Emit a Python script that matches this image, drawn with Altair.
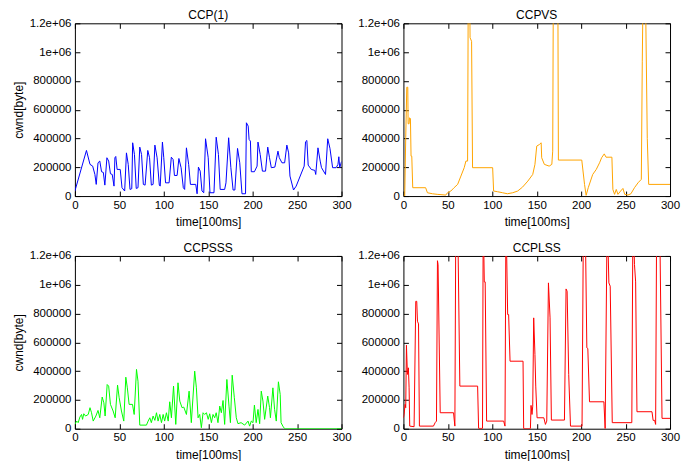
import altair as alt
import pandas as pd

# ---------------- data ----------------
ccp1_t = [0, 13, 17, 20, 22.5, 24, 26, 28, 30, 32, 33.7, 36, 38, 40, 42, 44, 45, 46, 47.5, 51, 53, 56, 58, 60, 62, 64,
          65, 67, 69, 71, 73, 75, 77, 79, 82, 84, 86, 88, 90, 92.5, 95, 96, 98.5, 100, 102, 106, 108.5, 110.5, 112, 115,
          117, 119.5, 122, 123.5, 125.5, 128, 130, 136, 137.5, 139, 141, 143, 145, 147, 150, 152, 156.5, 159, 161.5,
          163.5, 168.5, 170, 173, 175.5, 178, 180, 183, 185.5, 188, 192, 193, 195, 196, 197.5, 198.5, 202, 205, 206,
          208.5, 211, 214.5, 217, 219, 221, 225, 228.5, 230, 233, 236, 238.5, 240.5, 242, 246, 249, 258, 259.5, 261,
          262.5, 266, 270, 271, 273.5, 276, 277.5, 282, 284.5, 287, 290, 294, 296, 297, 298, 300]
ccp1_v = [35000, 317000, 220000, 208000, 150000, 81000, 231000, 243000, 169000, 164000, 76000, 266000, 243000, 155000,
          150000, 69000, 266000, 275000, 185000, 185000, 58000, 35000, 300000, 220000, 46000, 51000, 370000, 289000,
          53000, 58000, 340000, 289000, 81000, 76000, 317000, 266000, 76000, 81000, 354000, 266000, 76000, 69000,
          375000, 266000, 92000, 92000, 270000, 254000, 143000, 143000, 261000, 197000, 58000, 46000, 335000, 220000,
          81000, 81000, 16000, 201000, 173000, 35000, 23000, 398000, 266000, 23000, 23000, 409000, 289000, 46000,
          46000, 92000, 405000, 197000, 42000, 42000, 331000, 231000, 16000, 16000, 509000, 486000, 393000, 382000,
          169000, 169000, 208000, 375000, 289000, 173000, 173000, 340000, 266000, 197000, 201000, 312000, 266000,
          231000, 231000, 354000, 300000, 139000, 42000, 69000, 208000, 377000, 386000, 215000, 185000, 178000,
          150000, 335000, 243000, 197000, 150000, 398000, 331000, 197000, 197000, 220000, 273000, 197000, 240000]

ccpvs_t = [0, 1.5, 2.6, 3.8, 4.9, 5.3, 6.4, 6.8, 7.9, 8.6, 9.4, 10.5, 25, 27, 32.7, 38, 47.7, 49.6, 53.4, 57, 61, 64.7,
           68.4, 70.3, 72.2, 73, 74.4, 75, 76.7, 77.8, 100.4, 101.5, 106, 111.6, 117, 123, 128.6, 134, 140, 145.5, 148,
           150, 153, 155, 155.6, 158.6, 164, 167, 168, 168.8, 173.7, 174.4, 200.7, 203.8, 205.6, 208, 213, 217, 220.7,
           223, 226, 228, 234.6, 235.7, 237.6, 239.5, 241.4, 244.4, 247, 249, 252.6, 256, 260, 264, 267.7, 268.8, 270,
           272, 274.4, 276, 300]
ccpvs_v = [0, 0, 405000, 756000, 756000, 502000, 502000, 543000, 539000, 277000, 277000, 58000, 58000, 23000, 16000,
           12000, 7000, 23000, 35000, 58000, 81000, 139000, 197000, 243000, 243000, 1500000, 1500000, 1100000, 1075000,
           197000, 197000, 35000, 30000, 23000, 16000, 23000, 35000, 62000, 104000, 150000, 220000, 347000, 358000,
           370000, 266000, 220000, 208000, 220000, 312000, 1600000, 1600000, 250000, 250000, 81000, 5000, 58000,
           150000, 185000, 231000, 266000, 293000, 270000, 270000, 46000, 12000, 46000, 12000, 35000, 53000, 12000,
           7000, 16000, 58000, 92000, 116000, 937000, 1600000, 1600000, 400000, 81000, 81000]

ccpsss_t = [0, 2, 3.7, 5.6, 7.5, 8.6, 10, 12, 15, 17, 18.7, 20.6, 23.6, 26, 28, 30.7, 32.6, 34, 36.3, 38, 40, 43, 45.3,
            48, 49.8, 52.4, 55, 57.3, 59, 61, 64.8, 66.7, 69.3, 71, 73, 80.5, 82.4, 84.3, 86, 88, 90, 91.8, 93.6, 95.5,
            97.4, 99.3, 101, 103, 105, 106.7, 108.6, 111, 113.5, 116, 118, 120.6, 122.5, 125.5, 128.5, 131, 134.8,
            136.7, 138.6, 140.4, 142.3, 144.2, 146, 148, 150, 151.7, 153.6, 155.4, 157.3, 159, 161, 163, 164.8, 166.7,
            168.5, 171, 173.4, 175, 177, 179.4, 181.6, 183.5, 187, 191, 194.8, 196.6, 198.5, 200.4, 202, 204, 206,
            207.9, 209.7, 211.6, 213.5, 217, 219, 220, 222.8, 224.7, 226.6, 229, 231, 232, 234, 236, 300]
ccpsss_v = [30000, 53000, 42000, 81000, 99000, 65000, 104000, 88000, 99000, 146000, 111000, 53000, 88000, 127000,
            76000, 220000, 180000, 88000, 307000, 296000, 169000, 123000, 76000, 303000, 215000, 123000, 53000, 358000,
            284000, 169000, 169000, 99000, 412000, 330000, 25000, 25000, 53000, 76000, 42000, 88000, 58000, 111000,
            53000, 99000, 42000, 99000, 53000, 111000, 53000, 187000, 76000, 296000, 30000, 319000, 192000, 146000,
            150000, 99000, 261000, 42000, 400000, 284000, 76000, 99000, 7000, 111000, 99000, 111000, 65000, 104000,
            42000, 99000, 76000, 111000, 42000, 157000, 111000, 196000, 30000, 342000, 157000, 42000, 372000, 215000,
            76000, 35000, 42000, 25000, 53000, 18000, 53000, 42000, 164000, 42000, 134000, 35000, 261000, 192000,
            65000, 227000, 146000, 76000, 284000, 134000, 53000, 326000, 238000, 42000, 18000, 0, 0]

ccplss_t = [0, 0.75, 1.9, 2.6, 3.4, 4.5, 5.6, 6.4, 7.1, 12, 13.9, 15, 15.8, 17, 18, 33.8, 35.7, 37.2, 38.3, 39, 41.4,
            56.4, 57.9, 59, 61, 63.5, 83.5, 84.6, 89, 89.8, 91, 92, 93.6, 112.8, 114.3, 115.4, 117.3, 118.4, 120,
            134.6, 135.3, 142.9, 143.6, 144.7, 145.5, 146.6, 148, 148.9, 150.4, 158, 159.8, 161.3, 163.2, 165, 166.5,
            181.2, 183, 184.2, 186, 188, 201, 202.6, 204.5, 206.4, 207.5, 209.4, 225.6, 227, 229.3, 231.2, 232.7, 235,
            257, 258.3, 260, 261.3, 262.8, 279.7, 281, 282.7, 283.8, 285, 288.3, 291, 300]
ccplss_v = [76000, 99000, 169000, 146000, 580000, 377000, 423000, 284000, 18000, 14000, 885000, 885000, 747000,
            728000, 18000, 18000, 42000, 53000, 1167000, 1140000, 111000, 111000, 18000, 1500000, 1500000, 296000,
            296000, 2000, 2000, 1500000, 1020000, 1020000, 53000, 53000, 18000, 1500000, 793000, 793000, 469000,
            469000, 0, 0, 162000, 99000, 157000, 770000, 516000, 296000, 76000, 76000, 30000, 53000, 1013000, 770000,
            60000, 60000, 971000, 955000, 377000, 18000, 18000, 1500000, 1500000, 562000, 557000, 187000, 187000, 0,
            1500000, 1013000, 990000, 42000, 42000, 1500000, 1140000, 1020000, 118000, 118000, 58000, 58000, 30000,
            1500000, 1500000, 72000, 72000]

titles = ["CCP(1)", "CCPVS", "CCPSSS", "CCPLSS"]
colors = ["#0000ff", "#ffa500", "#00ff00", "#ff0000"]
x_ticks = [0, 50, 100, 150, 200, 250, 300]
y_ticks = [0, 200000, 400000, 600000, 800000, 1000000, 1200000]

FONT = "Liberation Sans"
LABEL_EXPR = ("datum.value == 1200000 ? '1.2e+06' : datum.value == 1000000 ? '1e+06' "
              ": format(datum.value, 'd')")


def panel(title, t, v, color, show_ytitle):
    df = pd.DataFrame({"t": t, "v": v})
    base = alt.Chart(df)
    xs = alt.Scale(domain=[0, 300], nice=False, zero=False)
    ys = alt.Scale(domain=[0, 1200000], nice=False)
    main = base.mark_line(color=color, strokeWidth=1, clip=True).encode(
        x=alt.X("t:Q", scale=xs, axis=alt.Axis(
            orient="bottom", values=x_ticks, title="time[100ms]", offset=-5, tickSize=5,
            labelPadding=3, domain=False, grid=False, titlePadding=6, labelFlush=False)),
        y=alt.Y("v:Q", scale=ys, axis=alt.Axis(
            orient="left", values=y_ticks, title="cwnd[byte]" if show_ytitle else None,
            labelExpr=LABEL_EXPR, offset=-5, tickSize=5, labelPadding=4, domain=False,
            grid=False, titlePadding=4, labelFlush=False)),
    )
    mirror = base.mark_line(opacity=0, clip=True).encode(
        x=alt.X("t:Q", scale=xs, axis=alt.Axis(
            orient="top", values=x_ticks, labels=False, title=None, offset=-5, tickSize=5,
            domain=False, grid=False)),
        y=alt.Y("v:Q", scale=ys, axis=alt.Axis(
            orient="right", values=y_ticks, labels=False, title=None, offset=-5, tickSize=5,
            domain=False, grid=False)),
    )
    return alt.layer(main, mirror, title=alt.TitleParams(
        title, fontSize=12, fontWeight="normal", font=FONT, color="black", offset=-5, anchor="middle"
    )).resolve_axis(x="independent", y="independent").properties(width=267, height=173)


series = [(ccp1_t, ccp1_v), (ccpvs_t, ccpvs_v), (ccpsss_t, ccpsss_v), (ccplss_t, ccplss_v)]
panels = [panel(titles[i], series[i][0], series[i][1], colors[i], i % 2 == 0) for i in range(4)]

chart = alt.concat(
    *panels, columns=2, spacing={"row": 60, "column": 62}, bounds="flush",
    padding={"left": 3, "top": 0, "right": 5, "bottom": 0},
).configure_view(
    stroke="black", strokeWidth=1
).configure_axis(
    labelFont=FONT, labelFontSize=11.5, labelColor="black",
    titleFont=FONT, titleFontSize=12, titleFontWeight="normal", titleColor="black",
    tickColor="black", tickWidth=1
)

chart.save("out.html", embed_options={"renderer": "svg", "actions": False})
